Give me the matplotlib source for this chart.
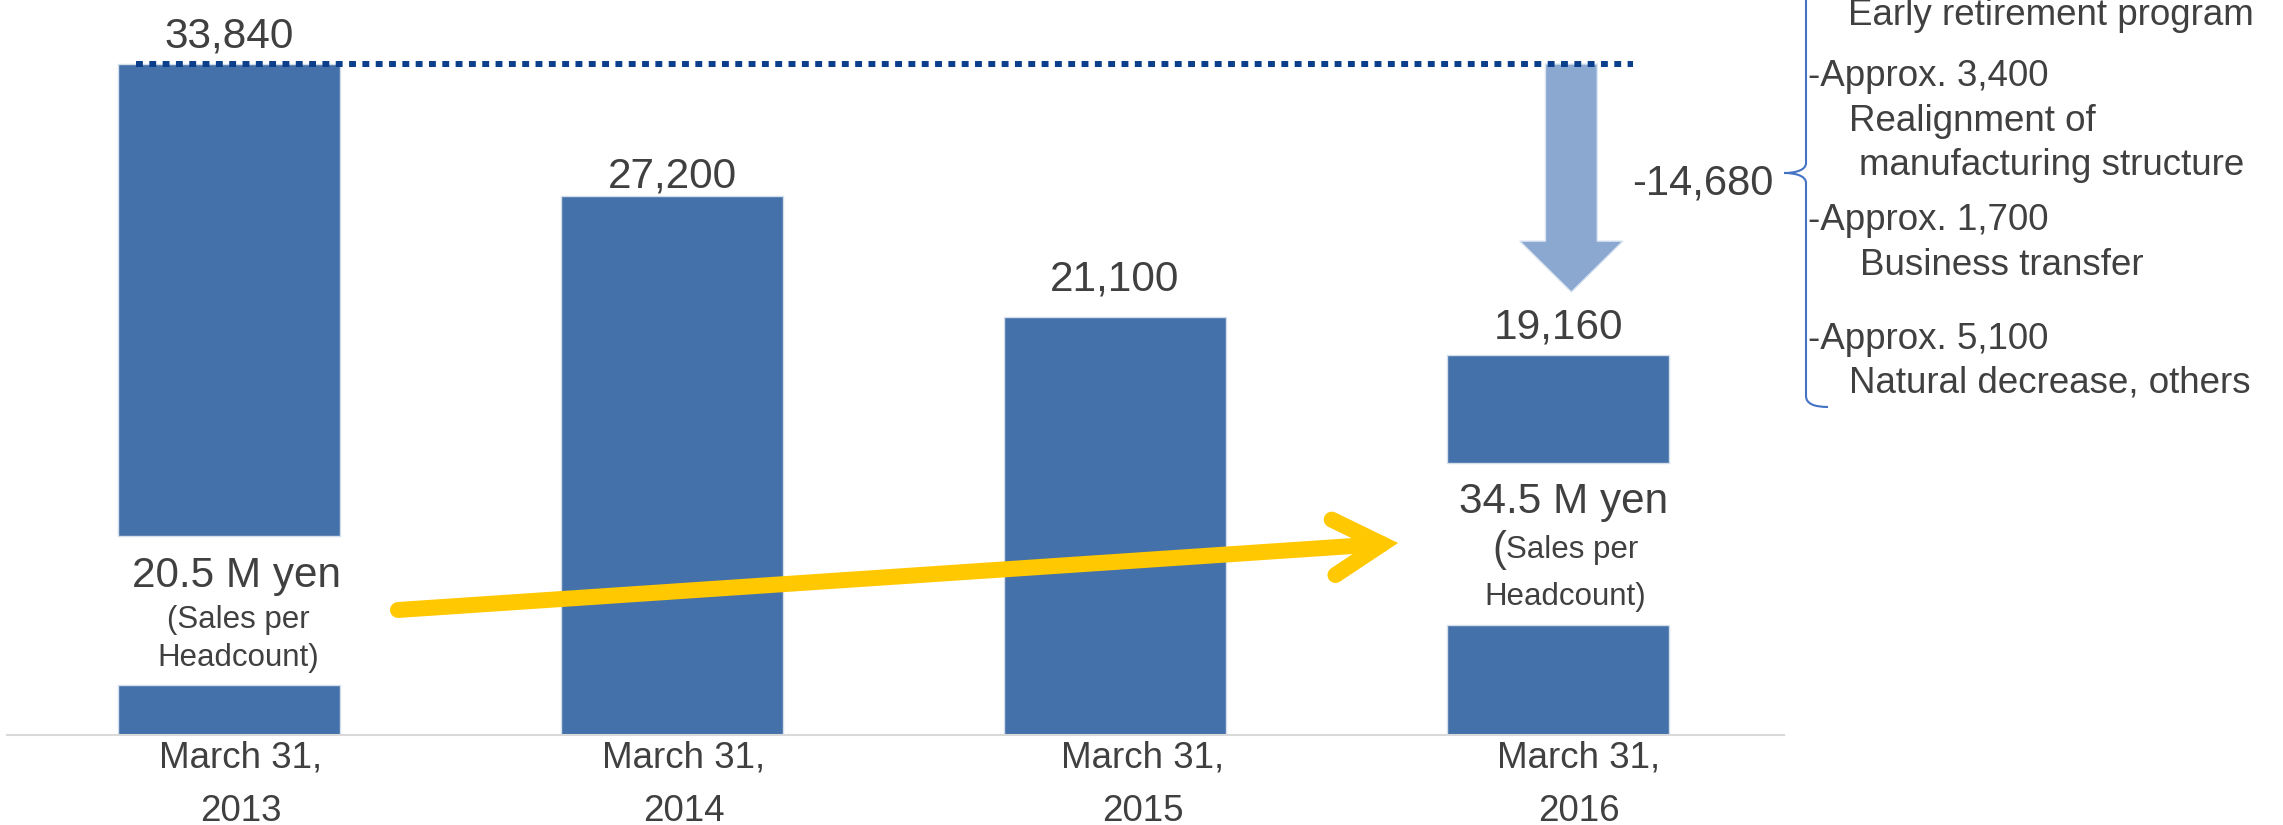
import numpy as np
import matplotlib.pyplot as plt
from matplotlib.path import Path
from matplotlib.patches import PathPatch

plt.rcParams['font.family'] = ['Liberation Sans', 'DejaVu Sans']

# headcount at fiscal year end
dates = ['March 31,', 'March 31,', 'March 31,', 'March 31,']
years = ['2013', '2014', '2015', '2016']
headcount = [33840, 27200, 21100, 19160]
value_labels = ['33,840', '27,200', '21,100', '19,160']

# white cut in bar 1 and bar 4 where the sales text sits
gap_low = [2520, None, None, 5550]
gap_high = [10040, None, None, 13720]
sales_main = ['20.5 M yen', None, None, '34.5 M yen']

total_change = '-14,680'
arrow_end = 22340

breakdown = [
    ('Early retirement program', 1848, 25),
    ('-Approx. 3,400', 1808, 86),
    ('Realignment of', 1849, 131),
    ('manufacturing structure', 1859, 175),
    ('-Approx. 1,700', 1808, 230),
    ('Business transfer', 1860, 275),
    ('-Approx. 5,100', 1808, 349),
    ('Natural decrease, others', 1849, 393),
]

W, H = 2283, 825
PX = 0.72  # pixels -> points at dpi 100
txt_c = '#404040'
bar_c = '#4471a9'
edge_c = '#d5dfec'

fig = plt.figure(figsize=(W / 100, H / 100), dpi=100)
ax = fig.add_axes([7 / W, 90 / H, 1777 / W, 735 / H])
ax.set_xlim(-0.501, 3.510)
ax.set_ylim(0, 37070)

x = np.arange(len(headcount))
bw = 0.5
for i, v in enumerate(headcount):
    if gap_low[i] is None:
        ax.bar(x[i], v, bw, color=bar_c, edgecolor=edge_c, lw=1)
    else:
        ax.bar(x[i], gap_low[i], bw, color=bar_c, edgecolor=edge_c, lw=1)
        ax.bar(x[i], v - gap_high[i], bw, bottom=gap_high[i], color=bar_c, edgecolor=edge_c, lw=1)

# value labels above bars
lab_gap = [17, 8, 26, 17]
for i, v in enumerate(headcount):
    ax.annotate(value_labels[i], xy=(x[i], v), xytext=(0, lab_gap[i] * PX),
                textcoords='offset points', ha='center', va='baseline',
                fontsize=30.5, color=txt_c, annotation_clip=False)

# x labels
lab_dx = [12, 12, 28, 21]
for i in range(len(x)):
    ax.annotate(dates[i], xy=(x[i], 0), xytext=(lab_dx[i] * PX, -32 * PX),
                textcoords='offset points', ha='center', va='baseline',
                fontsize=26.5, color=txt_c, annotation_clip=False)
    ax.annotate(years[i], xy=(x[i], 0), xytext=(lab_dx[i] * PX, -86 * PX),
                textcoords='offset points', ha='center', va='baseline',
                fontsize=26.5, color=txt_c, annotation_clip=False)

# sales per headcount text inside the bar gaps
i = 0
mid = (gap_low[i] + gap_high[i]) / 2
ax.annotate(sales_main[i], xy=(x[i], mid), xytext=(8 * PX, 23.5 * PX), textcoords='offset points',
            ha='center', va='baseline', fontsize=30.4, color=txt_c)
ax.annotate('(Sales per', xy=(x[i], mid), xytext=(9 * PX, -17.5 * PX), textcoords='offset points',
            ha='center', va='baseline', fontsize=22.5, color=txt_c)
ax.annotate('Headcount)', xy=(x[i], mid), xytext=(9 * PX, -55.5 * PX), textcoords='offset points',
            ha='center', va='baseline', fontsize=22.5, color=txt_c)

i = 3
mid = (gap_low[i] + gap_high[i]) / 2
ax.annotate(sales_main[i], xy=(x[i], mid), xytext=(6 * PX, 31 * PX), textcoords='offset points',
            ha='center', va='baseline', fontsize=30.4, color=txt_c)
ax.annotate('(', xy=(x[i], mid), xytext=(-52 * PX, -17 * PX), textcoords='offset points',
            ha='right', va='baseline', fontsize=30, color=txt_c)
ax.annotate('Sales per', xy=(x[i], mid), xytext=(-52 * PX, -14 * PX), textcoords='offset points',
            ha='left', va='baseline', fontsize=22.5, color=txt_c)
ax.annotate('Headcount)', xy=(x[i], mid), xytext=(7 * PX, -61 * PX), textcoords='offset points',
            ha='center', va='baseline', fontsize=22.5, color=txt_c)

# dotted reference line at the 2013 level
ax.plot([x[0] - 0.21, x[3] + 0.17], [headcount[0], headcount[0]], color='#0b3e8b',
        lw=4.3, dashes=(1.15, 1.08), solid_capstyle='butt', dash_capstyle='butt')

# big down arrow
ax.arrow(x[3] + 0.03, headcount[0], 0, arrow_end - headcount[0], width=0.117,
         head_width=0.233, head_length=2570, length_includes_head=True,
         fc='#8ba9d0', ec='#dbe5f1', lw=1)

# yellow trend arrow
ax.annotate('', xy=(2.639, 9684), xytext=(0.3815, 6305),
            arrowprops=dict(arrowstyle='->,head_length=3.5,head_width=2.0', color='#ffc800',
                            lw=11.5, shrinkA=0, shrinkB=0, mutation_scale=10,
                            capstyle='round', joinstyle='miter'))

for s in ['top', 'left', 'right']:
    ax.spines[s].set_visible(False)
ax.spines['bottom'].set_color('#d9d9d9')
ax.spines['bottom'].set_linewidth(1.5)
ax.set_xticks([])
ax.set_yticks([])
ax.patch.set_alpha(0)

# right side breakdown
fig.text(1774 / W, 1 - 194 / H, total_change, ha='right', va='baseline', fontsize=30, color=txt_c)
for t, px, py in breakdown:
    fig.text(px / W, 1 - py / H, t, ha='left', va='baseline', fontsize=26.5, color=txt_c)

# curly brace
def fp(px, py):
    return (px / W, 1 - py / H)

verts = [fp(1828, -63), fp(1806, -61), fp(1806, -50),
         fp(1806, 163),
         fp(1806, 170), fp(1796, 173), fp(1784, 173),
         fp(1796, 173), fp(1806, 176), fp(1806, 183),
         fp(1806, 396),
         fp(1806, 407), fp(1828, 407)]
codes = [Path.MOVETO, Path.CURVE3, Path.CURVE3,
         Path.LINETO,
         Path.CURVE4, Path.CURVE4, Path.CURVE4,
         Path.CURVE4, Path.CURVE4, Path.CURVE4,
         Path.LINETO,
         Path.CURVE3, Path.CURVE3]
fig.patches.append(PathPatch(Path(verts, codes), fill=False, ec='#4472c4', lw=1.5,
                             transform=fig.transFigure))

fig.savefig('out.png', dpi=100)
